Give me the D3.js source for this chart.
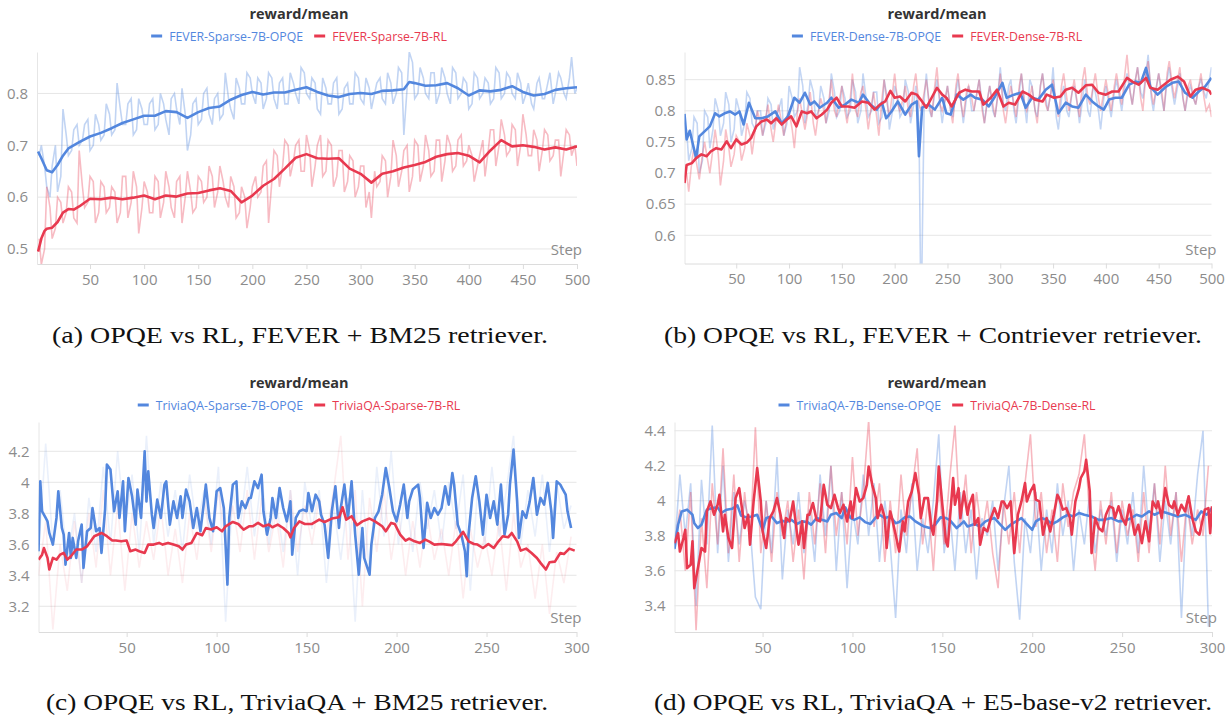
<!DOCTYPE html>
<html>
<head>
<meta charset="utf-8">
<script src="https://cdn.jsdelivr.net/npm/d3@7"></script>
<style>
  body { margin: 0; background: #fff; }
  text { font-family: "Open Sans", "Noto Sans", sans-serif; }
  .caption { font-family: "Liberation Serif", "DejaVu Serif", serif; }
</style>
</head>
<body>
<svg id="fig" width="1232" height="717"></svg>
<script>
// ---- panel (a): FEVER + BM25, steps 1..500 ----
var aOpqeSmooth = [[2,0.688],[5,0.675],[10,0.652],[15,0.648],[20,0.662],[25,0.680],[30,0.694],[40,0.706],[50,0.717],[60,0.724],[70,0.733],[80,0.743],[90,0.750],[100,0.757],[110,0.757],[120,0.766],[130,0.764],[140,0.753],[150,0.764],[160,0.772],[170,0.775],[180,0.788],[190,0.797],[200,0.803],[210,0.798],[220,0.802],[230,0.802],[240,0.807],[250,0.812],[260,0.803],[270,0.796],[280,0.793],[290,0.799],[300,0.801],[310,0.799],[320,0.805],[330,0.806],[340,0.808],[345,0.822],[350,0.820],[360,0.815],[370,0.816],[380,0.820],[390,0.810],[400,0.796],[410,0.806],[420,0.804],[430,0.807],[440,0.814],[450,0.803],[460,0.796],[470,0.799],[480,0.807],[490,0.810],[500,0.812]];
var aRlSmooth = [[2,0.495],[5,0.520],[8,0.535],[10,0.539],[15,0.541],[20,0.552],[25,0.570],[30,0.577],[35,0.576],[40,0.582],[50,0.597],[60,0.596],[70,0.599],[80,0.596],[90,0.599],[100,0.603],[110,0.596],[120,0.603],[130,0.601],[140,0.607],[150,0.608],[160,0.613],[170,0.617],[180,0.612],[190,0.590],[200,0.603],[210,0.622],[220,0.635],[230,0.655],[240,0.676],[250,0.683],[260,0.675],[270,0.674],[280,0.675],[290,0.655],[300,0.645],[310,0.628],[320,0.645],[330,0.650],[340,0.657],[350,0.662],[360,0.668],[370,0.678],[380,0.683],[390,0.685],[400,0.680],[410,0.667],[420,0.690],[430,0.710],[440,0.698],[450,0.700],[460,0.697],[470,0.692],[480,0.696],[490,0.692],[500,0.698]];
var abRawStepsA = d3.range(5, 501, 5);
var abRawStepsB = d3.range(3, 501, 5);
var aOpqeRaw = [0.70,0.62,0.66,0.61,0.77,0.68,0.73,0.70,0.74,0.69, 0.76,0.71,0.78,0.72,0.82,0.74,0.78,0.72,0.79,0.74, 0.78,0.73,0.80,0.75,0.79,0.77,0.81,0.69,0.78,0.74, 0.80,0.76,0.79,0.75,0.84,0.77,0.83,0.78,0.84,0.80, 0.83,0.77,0.84,0.79,0.82,0.78,0.84,0.80,0.85,0.80, 0.83,0.77,0.83,0.78,0.82,0.76,0.81,0.78,0.84,0.79, 0.83,0.77,0.82,0.79,0.84,0.78,0.85,0.72,0.88,0.79, 0.85,0.80,0.84,0.78,0.85,0.80,0.85,0.79,0.83,0.77, 0.84,0.79,0.83,0.78,0.85,0.79,0.84,0.80,0.84,0.78, 0.82,0.77,0.83,0.79,0.84,0.80,0.83,0.79,0.87,0.81];
var aOpqeRaw2 = [0.68,0.66,0.60,0.70,0.64,0.72,0.69,0.74,0.71,0.75, 0.70,0.74,0.72,0.76,0.73,0.77,0.74,0.79,0.73,0.77, 0.74,0.79,0.74,0.78,0.72,0.80,0.74,0.76,0.72,0.79, 0.75,0.81,0.74,0.80,0.76,0.79,0.75,0.81,0.78,0.83, 0.78,0.82,0.79,0.83,0.77,0.83,0.78,0.82,0.78,0.84, 0.79,0.82,0.76,0.81,0.78,0.83,0.77,0.82,0.78,0.83, 0.78,0.81,0.80,0.83,0.78,0.82,0.80,0.84,0.81,0.86, 0.80,0.83,0.79,0.84,0.80,0.83,0.78,0.84,0.80,0.82, 0.78,0.83,0.80,0.82,0.79,0.84,0.80,0.83,0.79,0.82, 0.80,0.78,0.82,0.79,0.82,0.78,0.84,0.80,0.83,0.80];
var aRlRaw = [0.47,0.62,0.52,0.60,0.55,0.62,0.56,0.69,0.58,0.64, 0.55,0.63,0.57,0.62,0.55,0.64,0.56,0.65,0.53,0.63, 0.57,0.64,0.56,0.65,0.58,0.63,0.55,0.65,0.57,0.64, 0.59,0.66,0.58,0.66,0.60,0.64,0.56,0.62,0.54,0.62, 0.60,0.66,0.55,0.69,0.62,0.71,0.64,0.70,0.65,0.72, 0.62,0.70,0.64,0.71,0.62,0.69,0.61,0.68,0.60,0.66, 0.58,0.56,0.62,0.68,0.60,0.71,0.62,0.69,0.61,0.71, 0.63,0.72,0.64,0.71,0.63,0.72,0.65,0.71,0.66,0.70, 0.63,0.68,0.64,0.73,0.66,0.75,0.68,0.74,0.66,0.76, 0.68,0.73,0.65,0.73,0.67,0.71,0.64,0.73,0.68,0.66];
var aRlRaw2 = [0.52,0.50,0.58,0.54,0.59,0.57,0.61,0.55,0.62,0.59, 0.63,0.57,0.62,0.58,0.61,0.57,0.64,0.59,0.62,0.58, 0.61,0.57,0.63,0.59,0.62,0.56,0.64,0.60,0.61,0.58, 0.63,0.60,0.64,0.61,0.63,0.58,0.62,0.57,0.60,0.58, 0.64,0.61,0.67,0.63,0.68,0.66,0.70,0.67,0.71,0.65, 0.69,0.66,0.72,0.65,0.70,0.64,0.69,0.63,0.67,0.62, 0.66,0.61,0.65,0.63,0.67,0.64,0.68,0.65,0.70,0.64, 0.70,0.66,0.69,0.65,0.71,0.67,0.70,0.66,0.72,0.67, 0.68,0.66,0.71,0.69,0.73,0.70,0.72,0.69,0.73,0.70, 0.72,0.68,0.71,0.69,0.72,0.68,0.71,0.69,0.72,0.70];

// ---- panel (b): FEVER + Contriever ----
var bOpqeSmooth = [[1,0.795],[3,0.754],[6,0.768],[9,0.746],[12,0.724],[15,0.759],[20,0.767],[25,0.775],[30,0.796],[34,0.791],[39,0.796],[44,0.799],[49,0.794],[53,0.799],[57,0.778],[62,0.813],[68,0.788],[74,0.788],[80,0.791],[87,0.799],[93,0.780],[99,0.791],[105,0.821],[110,0.813],[115,0.829],[120,0.810],[124,0.815],[129,0.805],[136,0.813],[140,0.821],[147,0.805],[153,0.810],[159,0.818],[166,0.813],[170,0.826],[177,0.810],[183,0.802],[188,0.813],[192,0.788],[197,0.799],[203,0.815],[210,0.794],[216,0.810],[221,0.815],[223,0.727],[226,0.805],[232,0.810],[238,0.802],[245,0.821],[249,0.796],[253,0.794],[259,0.826],[265,0.818],[272,0.826],[276,0.821],[283,0.818],[289,0.807],[295,0.823],[302,0.845],[306,0.821],[313,0.826],[319,0.829],[324,0.805],[330,0.821],[336,0.818],[343,0.834],[349,0.842],[355,0.796],[362,0.813],[368,0.807],[374,0.805],[381,0.826],[387,0.815],[393,0.807],[398,0.802],[403,0.818],[409,0.821],[415,0.821],[422,0.842],[428,0.847],[433,0.845],[438,0.869],[442,0.839],[449,0.826],[457,0.839],[463,0.845],[469,0.847],[475,0.829],[482,0.821],[488,0.831],[494,0.839],[500,0.853]];
var bRlSmooth = [[1,0.684],[3,0.713],[8,0.716],[12,0.724],[17,0.730],[22,0.727],[26,0.735],[31,0.740],[36,0.738],[41,0.751],[45,0.740],[50,0.754],[55,0.746],[60,0.749],[64,0.756],[69,0.775],[74,0.783],[79,0.786],[83,0.780],[88,0.788],[93,0.778],[98,0.786],[102,0.791],[107,0.775],[112,0.799],[117,0.796],[121,0.799],[126,0.788],[131,0.794],[136,0.802],[140,0.813],[145,0.821],[150,0.807],[156,0.807],[162,0.805],[169,0.815],[175,0.813],[181,0.802],[186,0.810],[191,0.815],[196,0.832],[200,0.821],[205,0.823],[210,0.815],[216,0.829],[221,0.826],[226,0.815],[230,0.805],[235,0.821],[240,0.837],[245,0.826],[249,0.821],[254,0.807],[261,0.829],[267,0.834],[273,0.831],[280,0.831],[284,0.810],[291,0.821],[297,0.834],[303,0.807],[308,0.813],[314,0.810],[321,0.831],[327,0.826],[333,0.818],[340,0.815],[344,0.826],[351,0.821],[357,0.823],[362,0.834],[368,0.837],[374,0.829],[381,0.841],[387,0.842],[393,0.829],[400,0.826],[406,0.831],[412,0.831],[420,0.853],[425,0.847],[431,0.842],[438,0.853],[442,0.837],[449,0.834],[455,0.842],[461,0.850],[468,0.855],[474,0.847],[480,0.823],[485,0.834],[491,0.837],[498,0.832],[500,0.826]];
var bOpqeRaw = [0.72,0.79,0.70,0.80,0.74,0.82,0.76,0.83,0.75,0.82, 0.76,0.83,0.78,0.80,0.76,0.82,0.77,0.80,0.76,0.84, 0.79,0.87,0.78,0.85,0.79,0.84,0.78,0.86,0.79,0.84, 0.79,0.85,0.78,0.86,0.79,0.83,0.78,0.85,0.77,0.84, 0.79,0.85,0.78,0.84,0.45,0.86,0.79,0.85,0.78,0.84, 0.79,0.85,0.78,0.84,0.80,0.85,0.78,0.84,0.79,0.87, 0.80,0.85,0.78,0.86,0.78,0.84,0.79,0.86,0.80,0.87, 0.77,0.84,0.79,0.84,0.78,0.85,0.79,0.83,0.77,0.84, 0.79,0.85,0.80,0.86,0.81,0.87,0.82,0.89,0.80,0.86, 0.80,0.87,0.81,0.86,0.80,0.84,0.81,0.85,0.82,0.87];
var bOpqeRaw2 = [0.77,0.74,0.78,0.72,0.79,0.77,0.80,0.78,0.81,0.77, 0.80,0.78,0.82,0.77,0.80,0.78,0.81,0.79,0.82,0.78, 0.82,0.80,0.84,0.81,0.83,0.80,0.82,0.80,0.83,0.80, 0.82,0.80,0.83,0.80,0.82,0.80,0.83,0.79,0.82,0.80, 0.82,0.80,0.83,0.81,0.78,0.82,0.80,0.83,0.81,0.82, 0.80,0.83,0.81,0.82,0.80,0.83,0.81,0.82,0.80,0.83, 0.81,0.84,0.80,0.83,0.81,0.85,0.80,0.84,0.82,0.83, 0.79,0.82,0.80,0.83,0.81,0.82,0.80,0.84,0.80,0.82, 0.81,0.83,0.82,0.84,0.83,0.85,0.83,0.86,0.82,0.84, 0.82,0.85,0.83,0.84,0.82,0.83,0.82,0.84,0.83,0.85];
var bRlRaw = [0.67,0.74,0.69,0.75,0.70,0.77,0.68,0.77,0.71,0.76, 0.72,0.78,0.73,0.80,0.76,0.81,0.75,0.81,0.76,0.80, 0.74,0.82,0.77,0.83,0.76,0.82,0.78,0.85,0.79,0.84, 0.78,0.86,0.79,0.84,0.77,0.83,0.76,0.85,0.79,0.86, 0.80,0.84,0.79,0.86,0.80,0.85,0.79,0.87,0.80,0.84, 0.78,0.86,0.79,0.84,0.80,0.85,0.78,0.84,0.79,0.86, 0.78,0.84,0.79,0.86,0.80,0.84,0.78,0.86,0.80,0.85, 0.79,0.86,0.80,0.85,0.79,0.87,0.81,0.86,0.80,0.85, 0.80,0.86,0.81,0.89,0.81,0.87,0.80,0.88,0.81,0.86, 0.80,0.88,0.82,0.87,0.80,0.85,0.81,0.86,0.80,0.79];
var bRlRaw2 = [0.70,0.72,0.71,0.73,0.72,0.74,0.73,0.72,0.74,0.73, 0.75,0.74,0.76,0.77,0.78,0.79,0.77,0.79,0.78,0.79, 0.77,0.80,0.79,0.80,0.78,0.80,0.80,0.82,0.80,0.82, 0.80,0.82,0.80,0.83,0.80,0.81,0.79,0.82,0.81,0.83, 0.81,0.82,0.80,0.84,0.81,0.83,0.81,0.84,0.81,0.82, 0.80,0.84,0.81,0.83,0.82,0.83,0.80,0.82,0.81,0.83, 0.80,0.82,0.81,0.84,0.81,0.82,0.80,0.84,0.81,0.83, 0.81,0.84,0.82,0.83,0.81,0.85,0.82,0.84,0.82,0.83, 0.82,0.84,0.83,0.86,0.83,0.85,0.82,0.86,0.83,0.84, 0.83,0.86,0.84,0.85,0.82,0.84,0.82,0.84,0.82,0.81];

// ---- panel (c): TriviaQA + BM25, steps 1..300 ----
var cOpqeSmooth = [[1,3.555],[2,4.006],[3,3.813],[5,3.770],[6,3.748],[7,3.673],[9,3.598],[11,3.770],[12,3.942],[14,3.705],[15,3.662],[16,3.469],[18,3.673],[19,3.512],[20,3.641],[22,3.512],[23,3.619],[25,3.727],[26,3.447],[28,3.684],[30,3.705],[31,3.834],[33,3.684],[35,3.705],[36,3.544],[38,3.824],[39,4.114],[41,4.082],[43,3.813],[45,3.942],[46,3.770],[48,4.006],[49,3.684],[51,4.028],[53,3.910],[55,3.727],[56,3.953],[58,3.770],[60,4.200],[61,3.877],[62,4.071],[64,3.791],[65,3.705],[67,3.888],[69,3.770],[71,3.985],[72,4.006],[74,3.727],[76,3.877],[78,3.770],[80,3.910],[81,3.770],[83,3.953],[85,3.877],[87,3.705],[89,3.834],[91,3.684],[93,3.877],[94,3.985],[96,3.770],[98,3.684],[100,3.942],[102,3.963],[104,3.834],[106,3.340],[107,3.770],[109,3.985],[111,4.006],[112,3.770],[114,3.877],[116,3.834],[118,3.899],[119,3.899],[121,4.006],[123,3.963],[125,4.049],[126,3.813],[128,3.662],[130,3.770],[131,3.899],[133,3.770],[135,3.963],[137,3.834],[139,3.748],[141,3.877],[142,3.533],[144,3.770],[146,3.813],[148,3.824],[150,3.813],[151,3.931],[153,3.813],[155,3.920],[157,3.877],[158,3.791],[160,3.727],[162,3.512],[164,3.813],[166,3.974],[168,3.705],[169,3.834],[171,3.985],[173,3.770],[175,4.006],[177,3.662],[179,3.404],[181,3.705],[182,3.512],[185,3.404],[186,3.598],[188,3.770],[190,3.813],[192,3.920],[194,4.092],[196,3.963],[198,3.813],[200,3.748],[202,3.856],[204,3.985],[206,3.770],[207,3.877],[209,3.953],[212,3.985],[213,3.899],[215,3.576],[217,3.867],[219,3.770],[221,3.834],[223,3.791],[225,3.834],[227,3.974],[229,3.856],[231,4.060],[232,3.985],[234,3.727],[236,3.662],[238,3.555],[239,3.394],[240,3.662],[242,3.899],[244,4.039],[246,3.877],[248,3.662],[250,3.920],[252,3.770],[254,3.877],[256,3.727],[258,3.985],[260,3.662],[262,3.791],[263,3.985],[265,4.211],[267,3.877],[268,3.641],[270,3.813],[272,3.770],[274,3.877],[276,4.028],[278,3.791],[280,3.899],[282,3.856],[284,3.996],[286,3.813],[287,3.641],[289,4.006],[291,3.985],[292,3.963],[294,3.920],[295,3.813],[297,3.705]];
var cRlSmooth = [[1,3.501],[3,3.533],[4,3.576],[6,3.512],[7,3.437],[9,3.512],[11,3.501],[13,3.533],[15,3.544],[17,3.501],[19,3.523],[22,3.566],[25,3.566],[28,3.587],[30,3.619],[32,3.652],[36,3.673],[39,3.652],[42,3.624],[44,3.624],[47,3.619],[50,3.624],[52,3.555],[55,3.566],[57,3.555],[60,3.544],[62,3.598],[65,3.598],[68,3.609],[70,3.598],[73,3.609],[76,3.598],[79,3.587],[81,3.566],[83,3.598],[86,3.609],[89,3.673],[92,3.658],[94,3.705],[97,3.695],[100,3.710],[103,3.684],[105,3.716],[109,3.744],[112,3.731],[115,3.695],[118,3.716],[120,3.716],[123,3.738],[126,3.716],[129,3.727],[131,3.710],[134,3.727],[137,3.705],[140,3.673],[141,3.645],[143,3.705],[146,3.748],[149,3.731],[153,3.731],[157,3.759],[160,3.744],[164,3.766],[168,3.774],[170,3.839],[172,3.759],[175,3.781],[178,3.723],[181,3.748],[185,3.766],[188,3.748],[192,3.716],[194,3.684],[197,3.738],[199,3.731],[202,3.662],[205,3.624],[207,3.637],[210,3.619],[213,3.609],[216,3.630],[218,3.619],[221,3.598],[225,3.602],[228,3.598],[231,3.594],[233,3.619],[237,3.680],[240,3.619],[243,3.602],[245,3.598],[248,3.576],[251,3.602],[254,3.576],[256,3.609],[259,3.652],[262,3.645],[264,3.673],[267,3.619],[269,3.559],[272,3.572],[275,3.544],[278,3.512],[280,3.480],[283,3.437],[285,3.484],[288,3.488],[291,3.544],[293,3.537],[296,3.572],[299,3.559]];
var cRawSteps = d3.range(1, 300, 4);
var cOpqeRaw = [3.55,4.25,3.60,3.95,3.50,3.80,3.35,3.90,3.55,4.10, 3.60,4.20,3.70,4.05,3.55,4.30,3.60,4.00,3.65,3.95, 3.55,4.05,3.70,3.95,3.60,4.10,3.10,3.95,3.70,4.10, 3.65,4.05,3.60,3.90,3.55,3.95,3.40,4.00,3.70,3.95, 3.35,3.85,3.50,3.90,3.10,3.95,3.40,4.10,3.65,4.20, 3.60,3.95,3.55,4.00,3.70,3.95,3.60,4.00,3.70,4.05, 3.30,3.95,3.60,4.10,3.65,3.95,4.30,3.60,3.95,3.65, 4.05,3.55,4.00,3.70,3.85];
var cRlRaw = [3.40,3.75,3.05,3.60,3.30,3.75,3.35,3.80,3.45,3.95, 3.40,3.85,3.30,3.80,3.45,3.75,3.50,3.85,3.40,3.70, 3.35,3.80,3.50,3.90,3.55,3.95,3.60,3.85,3.55,3.95, 3.50,3.90,3.55,3.80,3.45,3.95,3.55,3.85,3.60,3.90, 3.65,3.95,4.30,3.50,3.95,3.20,3.90,3.55,3.95,3.50, 3.80,3.40,3.75,3.45,3.80,3.50,3.70,3.40,3.75,3.25, 3.70,3.45,3.65,3.40,3.75,3.30,3.80,3.45,3.60,3.25, 3.60,3.15,3.55,3.35,3.65];

// ---- panel (d): TriviaQA + E5-base-v2 ----
var dOpqeSmooth = [[1,3.726],[3,3.863],[5,3.939],[8,3.949],[11,3.920],[12,3.872],[14,3.844],[16,3.863],[19,3.949],[22,3.958],[25,3.962],[27,3.930],[30,3.949],[33,3.954],[36,3.973],[38,3.916],[41,3.905],[44,3.910],[47,3.920],[50,3.834],[52,3.901],[55,3.910],[58,3.872],[61,3.886],[63,3.878],[66,3.891],[69,3.867],[72,3.882],[75,3.878],[77,3.863],[80,3.901],[83,3.891],[86,3.882],[88,3.920],[91,3.930],[94,3.901],[96,3.962],[99,3.901],[101,3.891],[104,3.905],[107,3.878],[110,3.867],[113,3.905],[115,3.920],[118,3.901],[121,3.910],[124,3.872],[126,3.878],[129,3.905],[132,3.910],[135,3.882],[138,3.863],[140,3.853],[143,3.844],[146,3.863],[149,3.905],[152,3.901],[154,3.891],[158,3.844],[162,3.882],[164,3.853],[168,3.867],[171,3.853],[174,3.882],[176,3.891],[179,3.901],[182,3.867],[185,3.834],[188,3.863],[191,3.882],[194,3.901],[197,3.867],[200,3.834],[202,3.882],[205,3.901],[208,3.891],[211,3.867],[214,3.882],[217,3.905],[220,3.920],[223,3.910],[226,3.930],[229,3.920],[233,3.910],[237,3.891],[240,3.891],[244,3.901],[248,3.882],[252,3.886],[255,3.901],[258,3.920],[261,3.910],[265,3.939],[268,3.920],[272,3.939],[275,3.930],[278,3.920],[281,3.910],[285,3.920],[289,3.901],[291,3.891],[294,3.939],[297,3.920],[300,3.958]];
var dRlSmooth = [[1,3.758],[3,3.815],[4,3.710],[6,3.787],[7,3.834],[8,3.615],[10,3.634],[11,3.768],[12,3.501],[14,3.615],[16,3.730],[18,3.710],[19,3.939],[21,3.996],[23,3.920],[25,3.977],[26,4.034],[28,3.825],[29,3.920],[31,3.787],[33,3.730],[35,4.015],[37,4.072],[38,3.996],[40,3.844],[42,3.920],[43,3.749],[45,3.996],[47,4.187],[49,3.996],[50,3.825],[52,3.730],[54,3.901],[56,3.939],[58,4.015],[60,3.920],[62,3.787],[63,3.901],[65,3.882],[67,3.996],[69,3.825],[70,3.749],[72,3.882],[73,3.730],[75,3.920],[76,3.920],[78,3.987],[80,3.891],[82,3.882],[84,4.091],[86,3.977],[88,3.958],[90,4.034],[92,3.958],[93,3.930],[95,3.977],[97,3.882],[99,3.996],[100,3.901],[102,4.072],[104,3.996],[106,4.015],[108,4.091],[109,4.196],[111,4.091],[113,4.015],[114,3.901],[116,3.977],[118,3.901],[119,3.730],[121,3.939],[122,3.901],[124,3.806],[126,3.710],[128,3.882],[129,3.825],[131,3.996],[133,4.053],[135,4.158],[137,4.034],[138,3.901],[140,4.015],[142,4.015],[144,3.844],[145,3.806],[147,3.996],[148,4.196],[150,3.977],[152,3.768],[153,3.739],[156,4.130],[157,3.977],[159,4.072],[160,3.901],[162,4.053],[164,3.920],[165,3.977],[167,4.034],[168,3.863],[170,3.901],[171,3.749],[173,3.844],[175,3.825],[177,3.901],[179,3.958],[181,3.901],[183,3.996],[184,3.996],[186,3.958],[188,3.996],[190,3.701],[192,3.920],[194,3.996],[196,4.101],[197,3.996],[199,4.053],[201,4.091],[202,4.006],[204,3.996],[206,3.806],[208,3.901],[210,3.825],[212,3.920],[214,4.034],[215,4.015],[217,3.949],[219,3.958],[221,3.901],[222,3.806],[224,3.996],[226,4.072],[227,4.130],[229,4.168],[230,4.234],[232,4.053],[233,3.701],[235,3.901],[237,3.844],[239,3.825],[241,3.920],[243,3.968],[245,3.958],[246,3.901],[248,3.968],[250,3.901],[252,3.863],[254,3.977],[256,3.863],[257,3.806],[259,3.863],[261,3.758],[263,3.882],[265,3.768],[267,3.996],[269,3.958],[270,3.996],[272,3.901],[274,4.072],[276,3.977],[278,3.958],[279,3.996],[281,3.920],[283,3.977],[285,3.939],[287,4.025],[289,3.901],[291,3.825],[293,3.806],[295,3.901],[296,3.949],[298,3.958],[299,3.815],[300,3.968]];
var dRawSteps = d3.range(1, 300, 3);
var dOpqeRaw = [3.72,4.15,3.80,4.10,3.40,4.12,3.75,4.43,3.70,4.20, 3.65,4.05,3.75,4.00,3.85,3.45,3.38,4.00,3.70,4.25, 3.55,3.95,3.75,4.05,3.70,3.95,3.65,4.15,3.80,4.20, 3.60,4.05,3.50,3.95,3.75,4.15,3.80,4.10,3.65,4.00, 3.75,3.33,3.95,3.70,4.10,3.60,3.90,3.70,4.00,4.38, 3.70,3.95,3.60,4.05,3.70,3.95,3.55,3.90,3.80,4.00, 3.60,3.95,4.20,3.65,3.32,3.90,3.70,4.05,3.60,3.95, 3.70,4.10,3.80,4.00,3.60,3.95,3.75,4.05,3.70,3.95, 3.80,4.00,3.65,3.95,3.75,4.05,3.70,4.20,3.80,4.10, 3.65,4.00,3.75,4.05,3.33,4.00,3.80,4.15,4.40,3.28];
var dRlRaw = [3.75,3.95,3.60,4.05,3.26,3.90,3.50,4.10,3.75,4.30, 3.70,4.15,3.65,4.05,3.75,4.42,3.70,4.00,3.65,4.05, 3.80,4.00,3.65,3.95,3.55,4.05,3.75,4.10,3.70,4.20, 3.80,4.05,3.75,4.25,3.80,4.05,4.46,3.85,4.10,3.65, 4.00,3.70,4.15,3.80,4.05,4.30,3.75,4.00,3.60,4.10, 3.75,4.12,4.43,3.85,4.15,3.70,4.05,3.80,4.00,3.70, 3.50,4.00,3.75,4.05,3.70,4.10,4.38,3.85,4.05,3.70, 3.95,3.65,4.10,3.85,4.05,4.15,4.38,3.90,3.60,4.00, 3.75,4.05,3.70,4.00,3.80,3.95,3.65,4.05,3.70,4.10, 3.75,4.20,3.80,4.05,3.65,4.00,3.75,3.95,3.80,4.20];

var stepTicks500 = [50,100,150,200,250,300,350,400,450,500];
var stepTicks300 = [50,100,150,200,250,300];

var BLUE = "#5387de", RED = "#e8394f";

var svg = d3.select("#fig");

// pair raw values with their steps; several runs of samples are merged by step
function zipRaw(steps, vals, steps2, vals2) {
	var pts = vals.map(function(v, i) { return [steps[i], v]; });
	if (steps2) pts = pts.concat(vals2.map(function(v, i) { return [steps2[i], v]; }));
	return pts.sort(function(p, q) { return p[0] - q[0]; });
}

var panels = [
	{ id: "a", xDomain: [1, 500], xRange: [37, 577], yDomain: [0.471, 0.880], top: 52, bottom: 264,
	  yTicks: [0.5, 0.6, 0.7, 0.8], xTicks: stepTicks500, cx: 299, titleY: 13, legendY: 36,
	  names: ["FEVER-Sparse-7B-OPQE", "FEVER-Sparse-7B-RL"],
	  opqe: aOpqeSmooth, rl: aRlSmooth,
	  opqeRaw: zipRaw(abRawStepsA, aOpqeRaw, abRawStepsB, aOpqeRaw2),
	  rlRaw: zipRaw(abRawStepsA, aRlRaw, abRawStepsB, aRlRaw2),
	  rawOpacity: [0.36, 0.34], caption: "(a) OPQE vs RL, FEVER + BM25 retriever.", capX: 300, capY: 335, capW: 496 },
	{ id: "b", xDomain: [1, 500], xRange: [684.5, 1211.5], yDomain: [0.5547, 0.8945], top: 52, bottom: 263.5,
	  yTicks: [0.6, 0.65, 0.7, 0.75, 0.8, 0.85], xTicks: stepTicks500, cx: 937, titleY: 13, legendY: 36,
	  names: ["FEVER-Dense-7B-OPQE", "FEVER-Dense-7B-RL"],
	  opqe: bOpqeSmooth, rl: bRlSmooth,
	  opqeRaw: zipRaw(abRawStepsA, bOpqeRaw, abRawStepsB, bOpqeRaw2),
	  rlRaw: zipRaw(abRawStepsA, bRlRaw, abRawStepsB, bRlRaw2),
	  rawOpacity: [0.34, 0.32], caption: "(b) OPQE vs RL, FEVER + Contriever retriever.", capX: 933, capY: 335, capW: 538 },
	{ id: "c", xDomain: [1, 300], xRange: [38.5, 576.5], yDomain: [3.034, 4.389], top: 422, bottom: 632,
	  yTicks: [3.2, 3.4, 3.6, 3.8, 4, 4.2], xTicks: stepTicks300, cx: 299, titleY: 382, legendY: 405,
	  names: ["TriviaQA-Sparse-7B-OPQE", "TriviaQA-Sparse-7B-RL"],
	  opqe: cOpqeSmooth, rl: cRlSmooth, opqeRaw: zipRaw(cRawSteps, cOpqeRaw), rlRaw: zipRaw(cRawSteps, cRlRaw),
	  rawOpacity: [0.12, 0.09], caption: "(c) OPQE vs RL, TriviaQA + BM25 retriever.", capX: 297, capY: 702, capW: 502 },
	{ id: "d", xDomain: [1, 300], xRange: [674.5, 1212], yDomain: [3.250, 4.450], top: 422, bottom: 632,
	  yTicks: [3.4, 3.6, 3.8, 4, 4.2, 4.4], xTicks: stepTicks300, cx: 937, titleY: 382, legendY: 405,
	  names: ["TriviaQA-7B-Dense-OPQE", "TriviaQA-7B-Dense-RL"],
	  opqe: dOpqeSmooth, rl: dRlSmooth, opqeRaw: zipRaw(dRawSteps, dOpqeRaw), rlRaw: zipRaw(dRawSteps, dRlRaw),
	  rawOpacity: [0.36, 0.36], caption: "(d) OPQE vs RL, TriviaQA + E5-base-v2 retriever.", capX: 933, capY: 702, capW: 558 }
];

function drawPanel(p) {
	var x = d3.scaleLinear().domain(p.xDomain).range(p.xRange);
	var y = d3.scaleLinear().domain(p.yDomain).range([p.bottom, p.top]);
	var g = svg.append("g").attr("class", "panel-" + p.id);

	// horizontal grid
	g.append("g").selectAll("line")
		.data(p.yTicks).enter().append("line")
		.attr("x1", p.xRange[0]).attr("x2", p.xRange[1])
		.attr("y1", d => y(d)).attr("y2", d => y(d))
		.attr("stroke", "#e6e6e6").attr("stroke-width", 1);

	// y axis
	var yAxis = d3.axisLeft(y).tickValues(p.yTicks).tickSize(0).tickSizeOuter(0).tickPadding(9)
		.tickFormat(d => String(d));
	var ya = g.append("g").attr("transform", "translate(" + p.xRange[0] + ",0)").call(yAxis);
	ya.select(".domain").attr("stroke", "#e6e6e6");
	ya.selectAll("text").attr("fill", "#8c8c8c").style("font-size", "15px");

	// x axis
	var xAxis = d3.axisBottom(x).tickValues(p.xTicks).tickSize(5).tickSizeOuter(0).tickPadding(5);
	var xa = g.append("g").attr("transform", "translate(0," + p.bottom + ")").call(xAxis);
	xa.select(".domain").attr("stroke", "#dcdcdc");
	xa.selectAll(".tick line").attr("stroke", "#dcdcdc");
	xa.selectAll("text").attr("fill", "#8c8c8c").style("font-size", "15px");

	// "Step" label
	g.append("text").attr("x", p.xRange[1] + 5).attr("y", p.bottom - 9)
		.attr("text-anchor", "end").attr("fill", "#8c8c8c").style("font-size", "15px").text("Step");

	// clip
	g.append("clipPath").attr("id", "clip-" + p.id).append("rect")
		.attr("x", p.xRange[0]).attr("y", p.top)
		.attr("width", p.xRange[1] - p.xRange[0]).attr("height", p.bottom - p.top);

	var line = d3.line().x(d => x(d[0])).y(d => y(d[1]));
	var plot = g.append("g").attr("clip-path", "url(#clip-" + p.id + ")");

	plot.append("path").datum(p.opqeRaw).attr("d", line).attr("fill", "none")
		.attr("stroke", BLUE).attr("stroke-opacity", p.rawOpacity[0]).attr("stroke-width", 1.6);
	plot.append("path").datum(p.rlRaw).attr("d", line).attr("fill", "none")
		.attr("stroke", RED).attr("stroke-opacity", p.rawOpacity[1]).attr("stroke-width", 1.6);
	plot.append("path").datum(p.opqe).attr("d", line).attr("fill", "none")
		.attr("stroke", BLUE).attr("stroke-width", 2.6).attr("stroke-linejoin", "round");
	plot.append("path").datum(p.rl).attr("d", line).attr("fill", "none")
		.attr("stroke", RED).attr("stroke-width", 2.6).attr("stroke-linejoin", "round");

	// title
	g.append("text").attr("x", p.cx).attr("y", p.titleY).attr("text-anchor", "middle")
		.attr("dominant-baseline", "central").attr("fill", "#333")
		.style("font-size", "14.5px").style("font-weight", "bold").text("reward/mean");

	// legend
	var leg = g.append("g");
	var colors = [BLUE, RED];
	var cursor = 0;
	p.names.forEach(function(name, i) {
		leg.append("line").attr("x1", cursor).attr("x2", cursor + 11)
			.attr("y1", p.legendY).attr("y2", p.legendY)
			.attr("stroke", colors[i]).attr("stroke-width", 3);
		var t = leg.append("text").attr("x", cursor + 18).attr("y", p.legendY)
			.attr("dominant-baseline", "central").attr("fill", colors[i])
			.style("font-size", "12.3px").text(name);
		cursor += 18 + t.node().getComputedTextLength() + 11;
	});
	var legW = cursor - 11;
	leg.attr("transform", "translate(" + (p.cx - legW / 2) + ",0)");

	// caption
	g.append("text").attr("class", "caption").attr("x", p.capX).attr("y", p.capY)
		.attr("text-anchor", "middle").attr("dominant-baseline", "central")
		.attr("fill", "#111").style("font-size", "23px")
		.attr("textLength", p.capW).attr("lengthAdjust", "spacingAndGlyphs")
		.text(p.caption);
}

panels.forEach(drawPanel);
</script>
</body>
</html>
